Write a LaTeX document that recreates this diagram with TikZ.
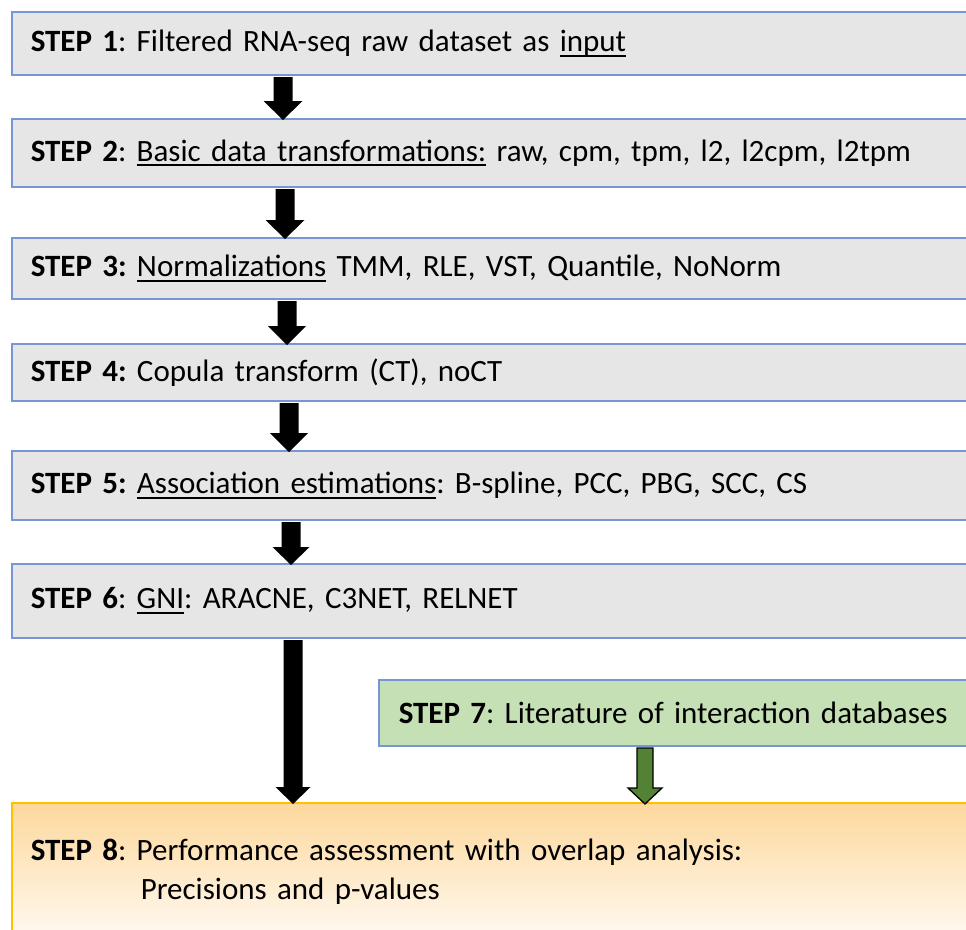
\documentclass[tikz,border=0pt]{standalone}
\usepackage{fontspec}
\setmainfont{Carlito}
\usetikzlibrary{calc}

\definecolor{boxgray}{HTML}{E7E6E6}
\definecolor{boxline}{HTML}{7896D4}
\definecolor{litgreen}{HTML}{C5E0B4}
\definecolor{arrgreen}{HTML}{548235}
\definecolor{goldline}{HTML}{FFC000}
\definecolor{peachtop}{HTML}{FDD89C}
\definecolor{peachbot}{HTML}{FFFAF3}

% underline at a fixed depth below the baseline
\newcommand\wordul[1]{\setbox0\hbox{#1}\rlap{\rule[-5pt]{\wd0}{1.7pt}}\box0\relax}

% block arrow from the bottom of one node to the top of another
% #1 style, #2 from, #3 to, #4 centre x, #5 half shaft, #6 half head, #7 head length
\newcommand\blockarrow[7][arrowblk]{%
  \path[#1] let \p1=(#2.south), \p2=(#3.north) in
    (#4pt-#5pt,\y1-1.5pt) -- (#4pt-#5pt,\y2-2pt+#7pt) -- (#4pt-#6pt,\y2-2pt+#7pt)
    -- (#4pt,\y2-2pt) -- (#4pt+#6pt,\y2-2pt+#7pt) -- (#4pt+#5pt,\y2-2pt+#7pt)
    -- (#4pt+#5pt,\y1-1.5pt) -- cycle;}

\tikzset{
  stepbox/.style={draw=boxline, fill=boxgray, line width=1.5pt, anchor=north west,
    text width=950pt, inner xsep=19pt, inner ysep=0pt, align=left,
    font=\fontsize{31}{39}\selectfont\frenchspacing},
  litbox/.style={stepbox, fill=litgreen, text width=600pt, inner xsep=20pt},
  evalbox/.style={stepbox, draw=goldline, top color=peachtop, bottom color=peachbot},
  arrowblk/.style={fill=black},
  arrowgrn/.style={fill=arrgreen, draw=black, line width=1.3pt, line join=miter},
}

\begin{document}
\begin{tikzpicture}[x=1pt, y=-1pt]
\useasboundingbox (0,0) rectangle (966,929);
\clip (0,0) rectangle (966,929);

\node[stepbox, minimum height=63pt] (s1) at (11,11)
  {\textbf{STEP 1}: Filtered RNA-seq raw dataset as \wordul{input}};
\node[stepbox, minimum height=68pt] (s2) at (11,118)
  {\textbf{STEP 2}: \wordul{Basic data transformations:} raw, cpm, tpm, l2, l2cpm, l2tpm};
\node[stepbox, minimum height=61pt] (s3) at (11,237)
  {\textbf{STEP 3:} \wordul{Normalizations} TMM, RLE, VST, Quantile, NoNorm};
\node[stepbox, minimum height=57pt] (s4) at (11,343)
  {\textbf{STEP 4:} Copula transform (CT), noCT};
\node[stepbox, minimum height=69pt] (s5) at (11,450)
  {\textbf{STEP 5:} \wordul{Association estimations}: B-spline, PCC, PBG, SCC, CS};
\node[stepbox, minimum height=74pt] (s6) at (11,563)
  {\textbf{STEP 6}: \wordul{GNI}: ARACNE, C3NET, RELNET};
\node[litbox, minimum height=66pt] (s7) at (378,679)
  {\textbf{STEP 7}: Literature of interaction databases};
\node[evalbox, minimum height=138pt] (s8) at (11,802)
  {\textbf{STEP 8}: Performance assessment with overlap analysis:\\
   \hspace*{110pt}Precisions and p-values};

\blockarrow{s1}{s2}{283}{9.5}{19.5}{19}
\blockarrow{s2}{s3}{285}{9.5}{19.5}{19}
\blockarrow{s3}{s4}{287}{9.5}{19}{19}
\blockarrow{s4}{s5}{289}{9.5}{19}{19}
\blockarrow{s5}{s6}{291}{9.5}{18.5}{18}
\blockarrow{s6}{s8}{293}{9.5}{17.5}{17}
\blockarrow[arrowgrn]{s7}{s8}{645}{8}{17}{16}
\end{tikzpicture}
\end{document}
